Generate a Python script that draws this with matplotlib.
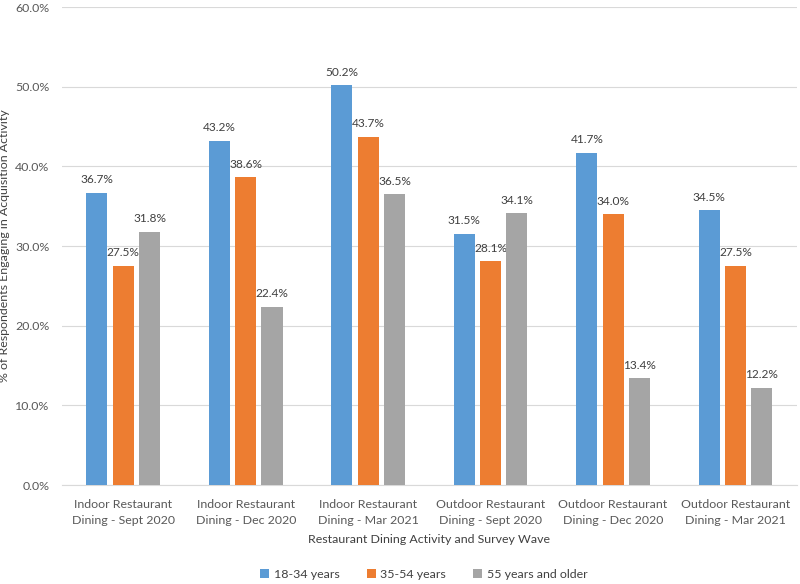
import matplotlib
matplotlib.use("Agg")
import matplotlib.pyplot as plt
import numpy as np
from matplotlib.ticker import FuncFormatter

plt.rcParams['font.family'] = ['Lato', 'DejaVu Sans']

categories = ["Indoor Restaurant\nDining - Sept 2020", "Indoor Restaurant\nDining - Dec 2020",
              "Indoor Restaurant\nDining - Mar 2021", "Outdoor Restaurant\nDining - Sept 2020",
              "Outdoor Restaurant\nDining - Dec 2020", "Outdoor Restaurant\nDining - Mar 2021"]
series_names = ["18-34 years", "35-54 years", "55 years and older"]
age_18_34 = [36.7, 43.2, 50.2, 31.5, 41.7, 34.5]
age_35_54 = [27.5, 38.6, 43.7, 28.1, 34.0, 27.5]
age_55_plus = [31.8, 22.4, 36.5, 34.1, 13.4, 12.2]
colors = ["#5B9BD5", "#ED7D31", "#A5A5A5"]

fig = plt.figure(figsize=(8, 5.84), dpi=100)
ax = fig.add_axes([0.0775, 0.1695, 0.9185, 0.8185])

x = np.arange(len(categories))
w = 0.172
offs = [-0.215, 0.0, 0.215]
for vals, name, c, o in zip([age_18_34, age_35_54, age_55_plus], series_names, colors, offs):
    bars = ax.bar(x + o, vals, w, color=c, label=name, zorder=3)
    for b, v in zip(bars, vals):
        ax.text(b.get_x() + b.get_width() / 2, v + 0.95, f"{v:.1f}%", ha='center', va='bottom',
                fontsize=8.6, color='#404040')

ax.set_xlim(-0.5, len(categories) - 0.5)
ax.set_ylim(0, 60)
ax.set_yticks(np.arange(0, 61, 10))
ax.yaxis.set_major_formatter(FuncFormatter(lambda v, p: f"{v:.1f}%"))
ax.grid(axis='y', color='#D9D9D9', linewidth=0.8, zorder=0)
for s in ['top', 'right', 'left']:
    ax.spines[s].set_visible(False)
ax.spines['bottom'].set_color('#D9D9D9')
ax.tick_params(axis='both', length=0, labelsize=8.9, labelcolor='#595959')
ax.tick_params(axis='y', pad=9)
ax.tick_params(axis='x', pad=10)
ax.set_xticks(x)
ax.set_xticklabels(categories, linespacing=1.55)
ax.set_xlabel("Restaurant Dining Activity and Survey Wave", fontsize=8.9, color='#404040', labelpad=6)
ax.set_ylabel("% of Respondents Engaging in Acquisition Activity", fontsize=8.9, color='#404040')
ax.yaxis.set_label_coords(-0.0705, 0.5)

fig.legend(loc='lower center', bbox_to_anchor=(0.53, -0.012), ncol=3, frameon=False, fontsize=8.9,
           handlelength=0.7, handleheight=0.7, handletextpad=0.4, columnspacing=2.2,
           labelcolor='#404040')

fig.savefig("out.png", dpi=100)
